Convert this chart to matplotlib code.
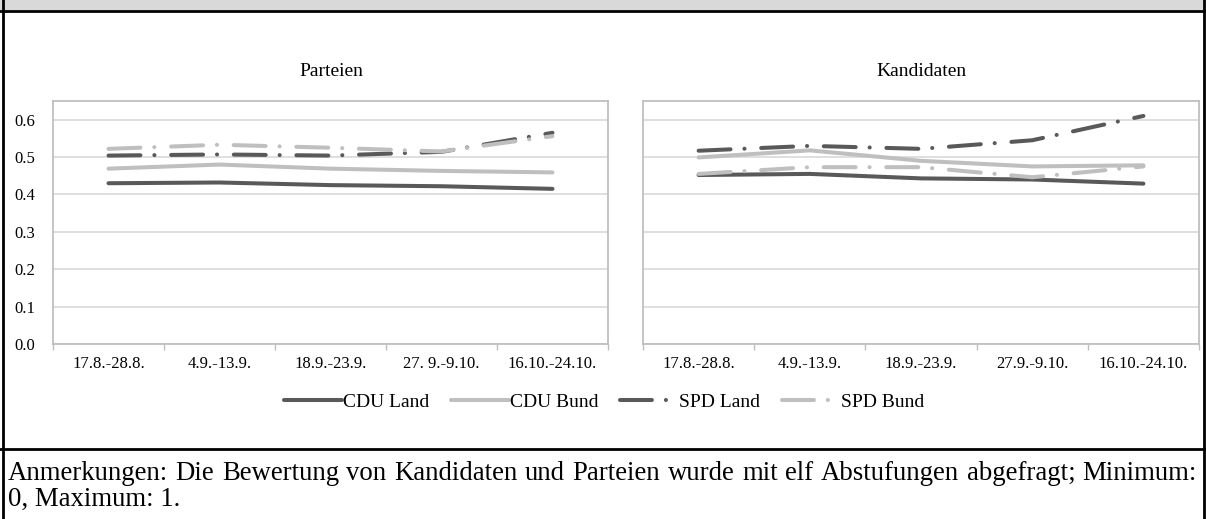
import matplotlib
matplotlib.use('Agg')
import matplotlib.pyplot as plt
from matplotlib.lines import Line2D
from matplotlib.patches import Rectangle

plt.rcParams['font.family'] = ['Liberation Serif', 'DejaVu Serif']
plt.rcParams['lines.scale_dashes'] = False

# ---------------- data ----------------
periods_left = ['17.8.-28.8.', '4.9.-13.9.', '18.9.-23.9.', '27. 9.-9.10.', '16.10.-24.10.']
periods_right = ['17.8.-28.8.', '4.9.-13.9.', '18.9.-23.9.', '27.9.-9.10.', '16.10.-24.10.']
series_names = ['CDU Land', 'CDU Bund', 'SPD Land', 'SPD Bund']

parteien_cdu_land = [0.430, 0.432, 0.425, 0.422, 0.415]
parteien_cdu_bund = [0.469, 0.480, 0.469, 0.463, 0.459]
parteien_spd_land = [0.504, 0.507, 0.504, 0.514, 0.565]
parteien_spd_bund = [0.522, 0.533, 0.525, 0.515, 0.556]

kandidaten_cdu_land = [0.452, 0.455, 0.443, 0.440, 0.429]
kandidaten_cdu_bund = [0.499, 0.518, 0.490, 0.475, 0.478]
kandidaten_spd_land = [0.517, 0.530, 0.522, 0.545, 0.610]
kandidaten_spd_bund = [0.455, 0.473, 0.473, 0.446, 0.475]

yticks = [0.0, 0.1, 0.2, 0.3, 0.4, 0.5, 0.6]
panel_titles = ['Parteien', 'Kandidaten']
note_line1 = ('Anmerkungen: Die Bewertung von Kandidaten und Parteien wurde mit elf '
              'Abstufungen abgefragt; Minimum:')
note_line2 = '0, Maximum: 1.'

# ---------------- styling ----------------
W, H = 1206, 519
DARK = '#595959'
LIGHT = '#bfbfbf'
GRID = '#d9d9d9'
LW = 2.9
DASHDOT = (0, (23, 10, 0.1, 12))
styles = [
    dict(color=DARK, lw=LW, ls='-', solid_capstyle='round'),
    dict(color=LIGHT, lw=LW, ls='-', solid_capstyle='round'),
    dict(color=DARK, lw=LW, ls=DASHDOT, dash_capstyle='round'),
    dict(color=LIGHT, lw=LW, ls=DASHDOT, dash_capstyle='round'),
]

fig = plt.figure(figsize=(W / 100, H / 100), dpi=100)


def px_rect(x0, x1, ytop, ybot):
    return [x0 / W, 1 - ybot / H, (x1 - x0) / W, (ybot - ytop) / H]


ax_l = fig.add_axes(px_rect(53, 608, 101, 344))
ax_r = fig.add_axes(px_rect(643, 1199, 101, 344))

panels = [
    (ax_l, periods_left, [parteien_cdu_land, parteien_cdu_bund, parteien_spd_land, parteien_spd_bund]),
    (ax_r, periods_right, [kandidaten_cdu_land, kandidaten_cdu_bund, kandidaten_spd_land, kandidaten_spd_bund]),
]

lines = []
for i, (ax, periods, data) in enumerate(panels):
    x = list(range(len(periods)))
    for name, vals, st in zip(series_names, data, styles):
        ln, = ax.plot(x, vals, label=name, zorder=3, **st)
        if i == 0:
            lines.append(ln)
    ax.set_xlim(-0.5, len(periods) - 0.5)
    ax.set_ylim(0, 0.65)
    ax.set_yticks(yticks)
    ax.set_yticklabels([f'{v:.1f}' for v in yticks])
    ax.set_xticks(x)
    ax.set_xticklabels(periods)
    ax.set_xticks([k - 0.5 for k in range(len(periods) + 1)], minor=True)
    ax.tick_params(axis='x', which='major', length=0, pad=9, labelsize=12)
    ax.tick_params(axis='x', which='minor', length=4, width=1, color=LIGHT, direction='out')
    ax.tick_params(axis='y', length=0, pad=13, labelsize=12)
    if i == 1:
        ax.tick_params(axis='y', labelleft=False)
    ax.grid(axis='y', color=GRID, lw=1.2, zorder=0)
    ax.set_axisbelow(True)
    for sp in ax.spines.values():
        sp.set_color(LIGHT)
        sp.set_linewidth(1.3)

# panel titles
fig.text(331 / W, 1 - 72 / H, panel_titles[0], ha='center', va='center', fontsize=14)
fig.text(921 / W, 1 - 72 / H, panel_titles[1], ha='center', va='center', fontsize=14)

# legend
fig.legend(handles=lines, labels=series_names, loc='center', bbox_to_anchor=(604 / W, 1 - 402 / H),
           ncol=4, frameon=False, fontsize=14, handlelength=3.0, handletextpad=0.05,
           columnspacing=1.1, borderpad=0)

# frame decorations
fig.add_artist(Rectangle((0, 1 - 10 / H), 1, 10 / H, transform=fig.transFigure,
                         facecolor='#d9d9d9', edgecolor='none', zorder=0))
fig.add_artist(Line2D([0, 1], [1 - 11 / H, 1 - 11 / H], transform=fig.transFigure, color='black', lw=2))
fig.add_artist(Line2D([0, 1], [1 - 449 / H, 1 - 449 / H], transform=fig.transFigure, color='black', lw=2))
fig.add_artist(Line2D([3.5 / W, 3.5 / W], [0, 1], transform=fig.transFigure, color='black', lw=2))
fig.add_artist(Line2D([1203.5 / W, 1203.5 / W], [0, 1], transform=fig.transFigure, color='black', lw=2))

# justified notes
renderer = fig.canvas.get_renderer()
X0, X1 = 8, 1197

probe = fig.text(0, 0, note_line1, fontsize=10)
nat_w = probe.get_window_extent(renderer).width
probe.remove()
NOTE_FS = 10 * (X1 - X0) / nat_w * 0.99


def justified(text, x0, x1, ybase, fs):
    words = text.split(' ')
    objs = [fig.text(0, 1 - ybase / H, w, fontsize=fs, va='baseline', ha='left') for w in words]
    widths = [o.get_window_extent(renderer).width for o in objs]
    gap = ((x1 - x0) - sum(widths)) / (len(words) - 1)
    xx = x0
    for o, w in zip(objs, widths):
        o.set_x(xx / W)
        xx += w + gap


justified(note_line1, X0, X1, 480, NOTE_FS)
fig.text(X0 / W, 1 - 506 / H, note_line2, fontsize=NOTE_FS, va='baseline', ha='left')

fig.savefig('out.png', dpi=100)
